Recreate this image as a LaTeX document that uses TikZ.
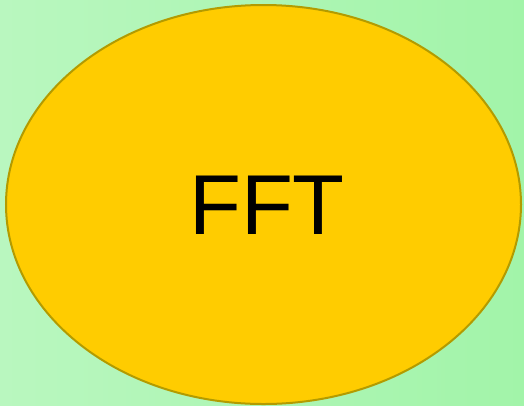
\documentclass[tikz,border=0pt]{standalone}
\usepackage{fontspec}
\setmainfont{Liberation Sans}
\definecolor{bgleft}{HTML}{B9F7BF}
\definecolor{bgright}{HTML}{A2F4A9}
\definecolor{ellfill}{HTML}{FFCC00}
\definecolor{ellborder}{HTML}{B39B00}
\tikzset{
  fftnode/.style={ellipse, draw=ellborder, fill=ellfill, line width=2pt,
    minimum width=515pt, minimum height=399pt, inner sep=0pt},
  fftlabel/.style={font=\fontsize{85}{85}\selectfont, text=black, inner sep=0pt, anchor=center}
}
\usetikzlibrary{shapes.geometric}
\begin{document}
\begin{tikzpicture}[x=1pt,y=-1pt]
  \shade[left color=bgleft, right color=bgright] (0,0) rectangle (524,405);
  \useasboundingbox (0,0) rectangle (524,405);
  \node[fftnode] (fft) at (263.5,204.5) {};
  \node[fftlabel] (lbl) at (267,205.5) {FFT};
\end{tikzpicture}
\end{document}
